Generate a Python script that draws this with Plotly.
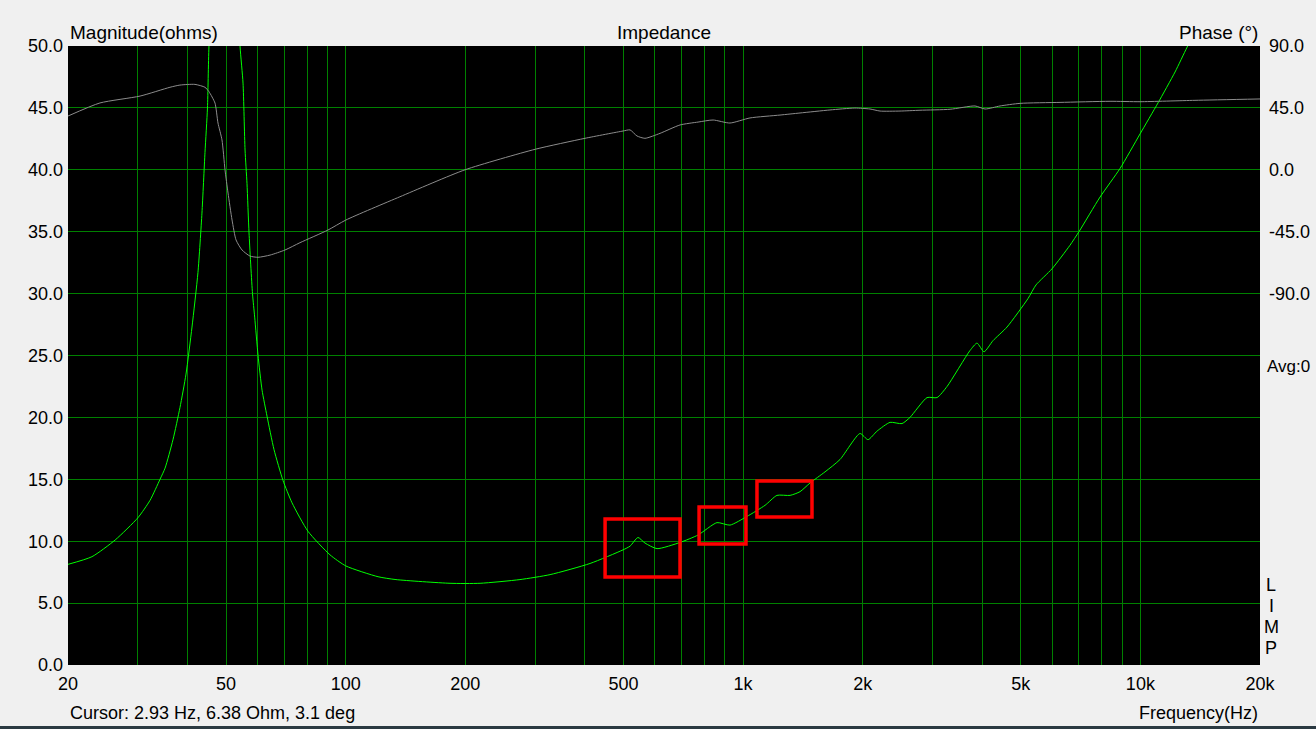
import plotly.graph_objects as go

# ---------------- data ----------------
imp_freq = [20, 22.98, 26.29, 30.0, 32.17, 34.09, 35.10, 36.75, 38.27, 39.63, 41.03, 42.47, 43.47,
            44.24, 44.88, 45.27, 47.5, 49.7, 52.0, 54.2, 55.15, 55.8, 56.43, 57.1, 58.26, 59.0,
            60.17, 61.58, 63.38, 65.99, 69.54, 73.26, 80.36, 91.28, 100.1, 120.6, 133.8, 183,
            217.8, 274.5, 326.8, 412, 498.8, 519.5, 543.9, 566.4, 607.5, 694, 770.4, 859.7, 927,
            1023, 1136, 1217, 1313, 1391, 1474, 1608, 1754, 1969, 2063, 2175, 2344, 2512, 2631,
            2904, 3078, 3262, 3725, 3880, 4041, 4257, 4617, 5214, 5461, 5990, 6648, 7005, 7916,
            8885, 9981, 11074, 12224, 13104, 14137]
imp_ohm = [8.13, 8.75, 10.1, 11.9, 13.3, 15.0, 15.9, 18.2, 20.8, 23.5, 27.3, 31.7, 36.5,
           41.4, 45.0, 50.0, 63.0, 75.0, 63.0, 50.0, 47.0, 41.6, 38.9, 34.9, 30.0, 28.1,
           25.0, 22.2, 20.1, 17.4, 14.9, 13.1, 10.8, 8.9, 8.0, 7.13, 6.9, 6.6,
           6.6, 6.9, 7.3, 8.2, 9.3, 9.6, 10.3, 9.85, 9.4, 9.9, 10.5, 11.5, 11.3,
           12.0, 12.9, 13.7, 13.7, 14.0, 14.7, 15.6, 16.6, 18.7, 18.2, 18.9, 19.6, 19.5, 20.0,
           21.6, 21.6, 22.5, 25.4, 26.0, 25.3, 26.2, 27.3, 29.6, 30.7, 32.0, 33.9, 35.0, 37.8,
           40.1, 42.9, 45.4, 47.9, 49.9, 52.0]

ph_freq = [20, 24.07, 30.37, 36.11, 38.27, 41.74, 44.24, 45.27, 46.88, 47.70, 48.82, 49.68,
           50.56, 51.75, 52.96, 54.83, 57.40, 60.17, 64.5, 70.35, 76.7, 90.2, 100.1, 136.9,
           199.6, 299.6, 400.2, 498.8, 519.5, 540.8, 566.4, 618.1, 694, 770.4, 840.6, 927, 1041,
           1239, 1391, 1655, 1912, 2087, 2212, 2483, 2788, 3319, 3835, 4065, 4434, 4978, 6277,
           8387, 9981, 13722, 20000]
ph_deg = [39.1, 48.6, 53.6, 60.0, 61.6, 62.1, 60.0, 56.8, 48.5, 34.0, 21.7, 0.0,
          -16.9, -36.5, -51.0, -58.3, -62.7, -63.6, -62.0, -58.3, -53.0, -43.8, -36.5, -19.6,
          0.0, 14.9, 22.9, 28.2, 29.0, 24.6, 22.9, 26.5, 32.6, 34.7, 36.2, 34.0, 37.7,
          39.8, 41.3, 43.5, 44.9, 44.2, 42.7, 42.7, 43.3, 44.0, 46.4, 44.2, 46.4, 48.3, 49.0,
          49.8, 49.5, 50.5, 51.5]

grid_freqs = [20, 30, 40, 50, 60, 70, 80, 90, 100, 200, 300, 400, 500, 600, 700, 800, 900,
              1000, 2000, 3000, 4000, 5000, 6000, 7000, 8000, 9000, 10000, 20000]
freq_labels = {20: "20", 50: "50", 100: "100", 200: "200", 500: "500", 1000: "1k",
               2000: "2k", 5000: "5k", 10000: "10k", 20000: "20k"}
mag_ticks = [0, 5, 10, 15, 20, 25, 30, 35, 40, 45, 50]
phase_ticks = [90, 45, 0, -45, -90]

# highlight boxes: (f_low, f_high, ohm_low, ohm_high)
boxes = [(449.5, 694, 7.11, 11.79), (775, 1017, 9.77, 12.76), (1084, 1491, 11.95, 14.86)]

# ---------------- figure ----------------
FONT = "Liberation Sans, Arial, sans-serif"
GRID = "#008000"

fig = go.Figure()
fig.add_trace(go.Scatter(x=ph_freq, y=ph_deg, yaxis="y2", mode="lines",
                         line=dict(color="#8c8c8c", width=1, shape="spline", smoothing=0.6),
                         hoverinfo="skip", showlegend=False))
fig.add_trace(go.Scatter(x=imp_freq, y=imp_ohm, mode="lines",
                         line=dict(color="#00ff00", width=1, shape="spline", smoothing=0.6),
                         hoverinfo="skip", showlegend=False))

for f0, f1, y0, y1 in boxes:
    fig.add_shape(type="rect", xref="x", yref="y", x0=f0, x1=f1, y0=y0, y1=y1,
                  line=dict(color="#ff0000", width=3.5))

fig.add_shape(type="rect", xref="paper", yref="paper", x0=-0.1, x1=1.1,
              y0=-0.11, y1=-0.0985, line=dict(width=0), fillcolor="#2b3a42", layer="above")

ann = [
    dict(text="Magnitude(ohms)", x=0, y=1.0226, xanchor="left", size=19),
    dict(text="Impedance", x=0.5, y=1.0226, xanchor="center", size=19),
    dict(text="Phase (°)", x=1.0, y=1.0226, xanchor="right", size=19),
    dict(text="Avg:0", x=1.0045, y=0.483, xanchor="left", size=17),
    dict(text="Cursor: 2.93 Hz, 6.38 Ohm, 3.1 deg", x=0, y=-0.0775, xanchor="left", size=18),
    dict(text="Frequency(Hz)", x=1.0, y=-0.0775, xanchor="right", size=18),
]
for i, ch in enumerate("LIMP"):
    ann.append(dict(text=ch, x=1.0096, y=(665 - (585 + i * 21)) / 619, xanchor="center", size=18))
for a in ann:
    size = a.pop("size")
    fig.add_annotation(xref="paper", yref="paper", yanchor="middle", showarrow=False,
                       font=dict(family=FONT, size=size, color="#000000"), **a)

TICKFONT = dict(family=FONT, size=18, color="#000000")
fig.update_layout(
    template="none",
    width=1316, height=729,
    margin=dict(l=68, r=56, t=46, b=64),
    paper_bgcolor="#f0f0f0", plot_bgcolor="#000000",
    font=dict(family=FONT, size=18, color="#000000"),
    xaxis=dict(type="log", range=[1.30103, 4.30103],
               tickmode="array", tickvals=grid_freqs,
               ticktext=[freq_labels.get(f, "") for f in grid_freqs],
               showgrid=True, gridcolor=GRID, gridwidth=1, zeroline=False,
               showline=False, ticks="", tickfont=TICKFONT, ticklabelstandoff=6),
    yaxis=dict(range=[0, 50], tickmode="array", tickvals=mag_ticks,
               ticktext=[f"{v:.1f}" for v in mag_ticks],
               showgrid=True, gridcolor=GRID, gridwidth=1, zeroline=False,
               showline=False, ticks="", tickfont=TICKFONT, ticklabelstandoff=4),
    yaxis2=dict(range=[-360, 90], overlaying="y", side="right", tickmode="array",
                tickvals=phase_ticks, ticktext=[f"{v:.1f}" for v in phase_ticks],
                showgrid=False, zeroline=False, showline=False, ticks="",
                tickfont=TICKFONT, ticklabelstandoff=8),
)

fig.write_html("out.html", config={"displayModeBar": False},
               post_script="document.body.style.margin='0px';")
